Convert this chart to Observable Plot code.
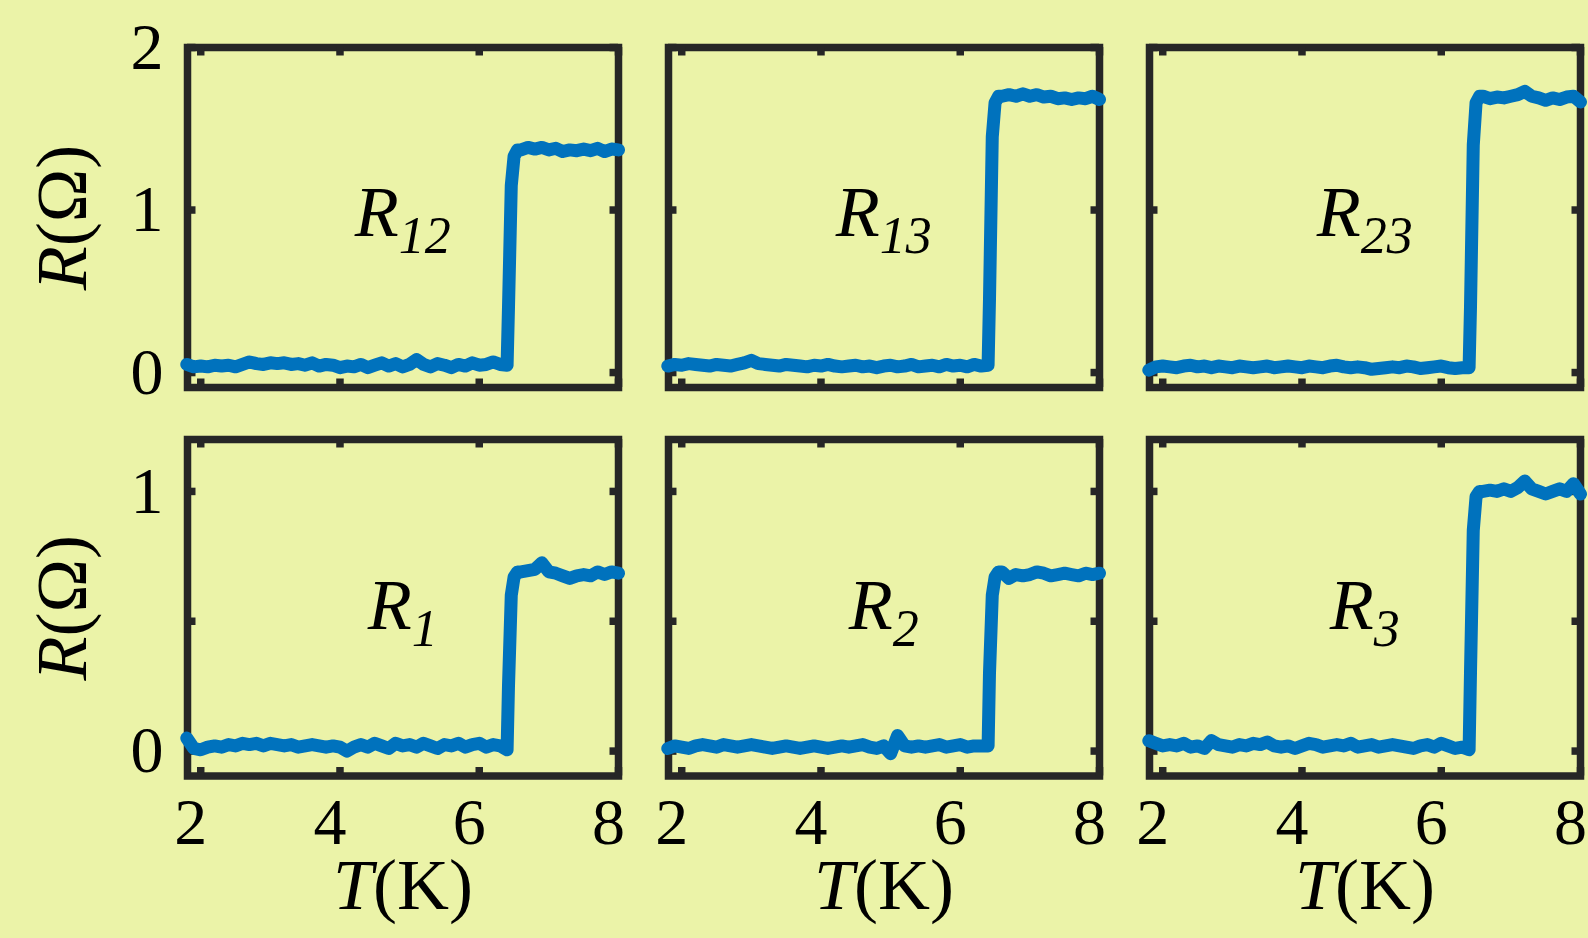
<!DOCTYPE html>
<html><head><meta charset="utf-8">
<script src="https://cdn.jsdelivr.net/npm/d3@7"></script>
<script src="https://cdn.jsdelivr.net/npm/@observablehq/plot@0.6"></script>
<style>
html,body{margin:0;padding:0;background:#EBF3A8;}
#fig{position:relative;width:1588px;height:938px;overflow:hidden;background:#EBF3A8;}
#fig svg{position:absolute;display:block;}
</style></head><body><div id="fig"></div>
<script>
// Temperature grid (K)
const T = [1.8,1.9,2.0,2.1,2.2,2.3,2.4,2.5,2.6,2.7,2.8,2.9,3.0,3.1,3.2,3.3,3.4,3.5,3.6,3.7,3.8,3.9,4.0,4.1,4.2,4.3,4.4,4.5,4.6,4.7,4.8,4.9,5.0,5.1,5.2,5.3,5.4,5.5,5.6,5.7,5.8,5.9,6.0,6.1,6.2,6.3,6.4,6.42,6.46,6.5,6.55,6.6,6.7,6.8,6.9,7.0,7.1,7.2,7.3,7.4,7.5,7.6,7.7,7.8,7.9,8.0];

// Resistance series (Ohm)
const R12 = [0.05,0.035,0.04,0.035,0.045,0.04,0.045,0.035,0.05,0.065, 0.055,0.05,0.06,0.055,0.06,0.05,0.055,0.045,0.06,0.04, 0.05,0.045,0.03,0.04,0.035,0.05,0.03,0.045,0.06,0.04, 0.055,0.035,0.05,0.08,0.05,0.035,0.055,0.045,0.03,0.05, 0.04,0.06,0.045,0.05,0.065,0.05,0.045, 0.4,1.15,1.33,1.37, 1.37,1.385,1.375,1.385,1.37,1.38,1.36,1.37,1.365,1.375,1.365,1.38,1.36,1.375,1.37];
const R13 = [0.04,0.05,0.045,0.055,0.05,0.045,0.04,0.05,0.045,0.04, 0.05,0.06,0.075,0.055,0.05,0.045,0.04,0.05,0.045,0.04, 0.035,0.045,0.04,0.05,0.04,0.035,0.04,0.045,0.035,0.04, 0.03,0.04,0.045,0.035,0.04,0.05,0.035,0.04,0.045,0.035, 0.05,0.04,0.045,0.035,0.05,0.04,0.045, 0.45,1.45,1.66,1.70, 1.70,1.71,1.70,1.715,1.70,1.71,1.695,1.70,1.685,1.69,1.68,1.69,1.685,1.70,1.68];
const R23 = [0.015,0.035,0.04,0.035,0.03,0.04,0.045,0.035,0.04,0.03, 0.04,0.035,0.03,0.04,0.035,0.03,0.035,0.04,0.03,0.035, 0.04,0.035,0.03,0.04,0.035,0.03,0.04,0.045,0.035,0.03, 0.035,0.03,0.02,0.025,0.03,0.035,0.03,0.04,0.035,0.025, 0.03,0.035,0.04,0.03,0.025,0.03,0.03, 0.4,1.4,1.66,1.70, 1.70,1.685,1.695,1.69,1.70,1.71,1.73,1.70,1.69,1.675,1.69,1.68,1.695,1.70,1.665];
const R1 = [0.05,0.01,0.005,0.015,0.02,0.015,0.025,0.02,0.03,0.025, 0.03,0.02,0.03,0.025,0.02,0.025,0.015,0.02,0.025,0.02, 0.015,0.02,0.015,0.0,0.015,0.025,0.015,0.03,0.02,0.01, 0.03,0.02,0.025,0.015,0.03,0.02,0.01,0.025,0.02,0.03, 0.015,0.025,0.03,0.015,0.025,0.02,0.005, 0.25,0.6,0.67,0.69, 0.69,0.695,0.70,0.725,0.69,0.685,0.675,0.665,0.675,0.68,0.675,0.69,0.68,0.69,0.685];
const R2 = [0.01,0.02,0.015,0.01,0.02,0.025,0.02,0.015,0.025,0.02, 0.015,0.02,0.025,0.02,0.015,0.01,0.015,0.02,0.015,0.01, 0.015,0.02,0.015,0.01,0.015,0.02,0.015,0.02,0.025,0.015, 0.01,0.02,-0.01,0.06,0.02,0.015,0.02,0.015,0.02,0.025, 0.015,0.02,0.025,0.015,0.02,0.02,0.02, 0.3,0.6,0.67,0.69, 0.69,0.665,0.68,0.675,0.68,0.69,0.685,0.675,0.68,0.685,0.68,0.675,0.685,0.68,0.685];
const R3 = [0.04,0.03,0.02,0.025,0.02,0.03,0.015,0.02,0.01,0.04, 0.025,0.02,0.015,0.025,0.02,0.03,0.025,0.035,0.02,0.015, 0.02,0.01,0.02,0.03,0.025,0.015,0.02,0.025,0.02,0.03, 0.015,0.02,0.025,0.015,0.02,0.025,0.02,0.015,0.01,0.02, 0.025,0.015,0.03,0.02,0.01,0.015,0.005, 0.3,0.85,0.98,1.0, 1.0,1.005,1.0,1.01,1.0,1.015,1.04,1.01,1.0,0.99,1.0,1.01,1.0,1.03,0.99];

const seriesValues = [R12, R13, R23, R1, R2, R3];
const seriesSubs = ["12", "13", "23", "1", "2", "3"];

// Axes
const xDomain = [1.81, 8.0];
const xTicks = [2, 4, 6, 8];
const xTickLabels = [2, 4, 6, 8];
const yDomains = [[-0.092, 2], [-0.096, 1.2]];
const yTicks = [[0, 1, 2], [0, 0.5, 1]];
const yTickLabels = [[0, 1, 2], [0, 1]];
const panelLabelY = [0.98, 0.56];
const panelLabelX = 4.9;
const xTitle = "T(K)";
const yTitle = "R(Ω)";

// Layout
const W = 1588, H = 938;
const colLeft = [187, 667.5, 1149], panelW = 431;
const rowTop = [47, 438.5], rowH = [340, 336.5];
const FONT = "'Liberation Serif', 'DejaVu Serif', serif";
const BLUE = "#0072BD", FRAME = "#262626";
const NS = "http://www.w3.org/2000/svg";

function richify(svg, match, parts) {
  svg.querySelectorAll("text").forEach(t => {
    if (t.textContent !== match) return;
    t.textContent = "";
    parts.forEach(p => {
      const ts = document.createElementNS(NS, "tspan");
      ts.textContent = p.t;
      ts.setAttribute("font-style", p.italic ? "italic" : "normal");
      if (p.size) ts.setAttribute("font-size", p.size);
      if (p.dy != null) ts.setAttribute("dy", p.dy);
      t.appendChild(ts);
    });
  });
}

const fig = document.getElementById("fig");

seriesValues.forEach((vals, i) => {
  const row = Math.floor(i / 3), col = i % 3;
  const n = Math.min(T.length, vals.length);
  const data = [];
  for (let k = 0; k < n; k++) data.push({T: T[k], R: vals[k]});

  const mL = col === 0 ? colLeft[0] : 20;
  const mR = col === 2 ? W - colLeft[2] - panelW : 10;
  const mT = row === 0 ? rowTop[0] : 20;
  const mB = row === 0 ? 10 : H - rowTop[1] - rowH[1];
  const ph = rowH[row];
  const width = mL + panelW + mR;
  const height = mT + ph + mB;
  const tickLen = 8.5;

  const marks = [
    Plot.frame({stroke: FRAME, strokeWidth: 7.5}),
    Plot.ruleX(xTicks, {x: d => d, insetTop: ph - tickLen, stroke: FRAME, strokeWidth: 7.5}),
    Plot.ruleX(xTicks, {x: d => d, insetBottom: ph - tickLen, stroke: FRAME, strokeWidth: 7.5}),
    Plot.ruleY(yTicks[row], {y: d => d, insetRight: panelW - tickLen, stroke: FRAME, strokeWidth: 7.5}),
    Plot.ruleY(yTicks[row], {y: d => d, insetLeft: panelW - tickLen, stroke: FRAME, strokeWidth: 7.5}),
    Plot.line(data, {x: "T", y: "R", stroke: BLUE, strokeWidth: 13, strokeLinejoin: "round", strokeLinecap: "round"}),
    Plot.text([seriesSubs[i]], {x: () => panelLabelX, y: () => panelLabelY[row], text: d => "R" + d,
      fontSize: 72, textAnchor: "middle", lineAnchor: "middle", fill: "black"})
  ];
  if (col === 0) {
    marks.push(Plot.text(yTickLabels[row], {y: d => d, text: d => String(d), frameAnchor: "left",
      textAnchor: "end", lineAnchor: "middle", dx: -24, fontSize: 66, fill: "black"}));
    marks.push(Plot.text([yTitle], {text: d => d, frameAnchor: "left", rotate: -90,
      textAnchor: "middle", lineAnchor: "middle", dx: -124.5, fontSize: 72, fill: "black"}));
  }
  if (row === 1) {
    marks.push(Plot.text(xTickLabels, {x: d => d, text: d => String(d), frameAnchor: "bottom",
      textAnchor: "middle", lineAnchor: "top", dy: 21, dx: -10, fontSize: 66, fill: "black"}));
    marks.push(Plot.text([xTitle], {text: d => d, frameAnchor: "bottom",
      textAnchor: "middle", lineAnchor: "middle", dy: 110, fontSize: 72, fill: "black"}));
  }

  const svg = Plot.plot({
    width, height,
    marginLeft: mL, marginRight: mR, marginTop: mT, marginBottom: mB,
    x: {domain: xDomain, axis: null},
    y: {domain: yDomains[row], axis: null},
    style: {background: "transparent", fontFamily: FONT, fontSize: "66px", color: "black", overflow: "visible", maxWidth: "none"},
    marks
  });
  svg.style.left = (colLeft[col] - mL) + "px";
  svg.style.top = (rowTop[row] - mT) + "px";

  richify(svg, "R" + seriesSubs[i], [{t: "R", italic: true}, {t: seriesSubs[i], italic: true, size: 52, dy: 17}]);
  richify(svg, yTitle, [{t: "R", italic: true}, {t: "(Ω)", italic: false}]);
  richify(svg, xTitle, [{t: "T", italic: true}, {t: "(K)", italic: false}]);

  fig.appendChild(svg);
});
</script>
</body></html>
